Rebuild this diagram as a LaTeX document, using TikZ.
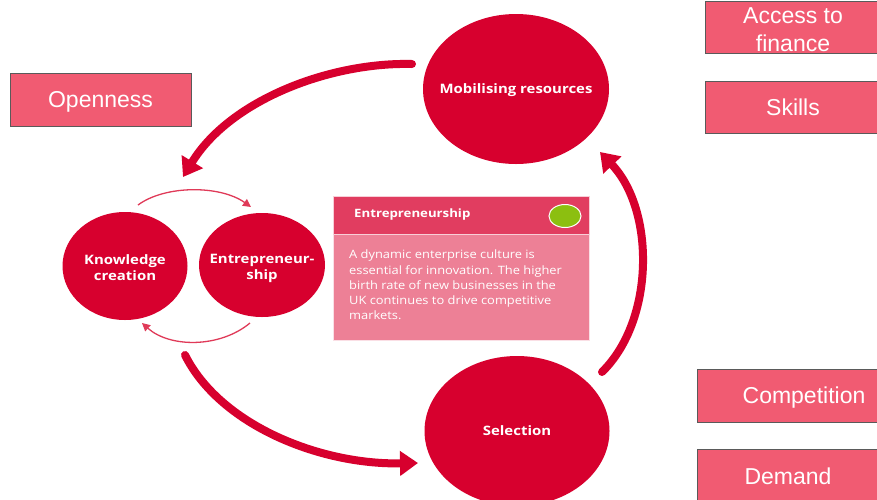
\documentclass[tikz,border=0pt]{standalone}
\usepackage{fontspec}
\setmainfont{Open Sans}
\newfontfamily\labfont{Liberation Sans}
\newfontfamily\widefont[FakeStretch=1.15]{Open Sans}
\newfontfamily\bodyfont[FakeStretch=1.12]{Open Sans}
\usetikzlibrary{arrows.meta,shapes.geometric}
\definecolor{crim}{HTML}{D7002E}
\definecolor{crimlight}{HTML}{E03A58}
\definecolor{labfill}{HTML}{F15B72}
\definecolor{labedge}{HTML}{5A5A5A}
\definecolor{hdrfill}{HTML}{E13D60}
\definecolor{bodyfill}{HTML}{ED8096}
\definecolor{greendot}{HTML}{8CBF10}
\tikzset{
  bigcirc/.style={ellipse, fill=crim, inner sep=0pt},
  circtext/.style={text=white, inner sep=0pt, align=center,
    font=\widefont\fontsize{13}{16}\selectfont\bfseries},
  labbox/.style={rectangle, fill=labfill, draw=labedge, line width=0.8pt, text=white,
    minimum height=53pt, inner sep=0pt, align=center,
    font=\labfont\fontsize{23}{28}\selectfont},
  labtext/.style={text=white, inner sep=0pt, align=center,
    font=\labfont\fontsize{23}{28}\selectfont},
  bigarrow/.style={draw=crim, line width=8pt, line cap=round,
    -{Triangle[length=18pt,width=24pt]}},
  smallarrow/.style={draw=crimlight, line width=1.3pt,
    -{Triangle[length=8pt,width=8pt]}},
}
\begin{document}
\begin{tikzpicture}[x=1pt,y=-1pt]
\useasboundingbox (0,0) rectangle (877,499);
\fill[white] (0,0) rectangle (877,499);

% circles
\node[bigcirc, minimum width=186pt, minimum height=150pt] (mob) at (516,89) {};
\node[circtext] (mobtxt) at ([yshift=-1pt]mob.center) {Mobilising resources};
\node[bigcirc, minimum width=185pt, minimum height=150pt] (sel) at (517,431) {};
\node[circtext] (seltxt) at (sel.center) {Selection};
\node[bigcirc, minimum width=125pt, minimum height=108pt] (know) at (125,266) {};
\node[circtext] (knowtxt) at ([yshift=-2pt]know.center) {Knowledge\\creation};
\node[bigcirc, minimum width=126pt, minimum height=104pt] (entr) at (262,265) {};
\node[circtext] (entrtxt) at ([yshift=-3pt]entr.center) {Entrepreneur-\\ship};

% panel
\node[rectangle, fill=bodyfill, draw=white!75!bodyfill, line width=0.8pt,
  minimum width=256pt, minimum height=106pt, inner sep=0pt] (body) at (461,287) {};
\node[rectangle, fill=hdrfill, draw=white!75!hdrfill, line width=0.8pt,
  minimum width=256pt, minimum height=38pt, inner sep=0pt] (hdr) at (461,215) {};
\node[anchor=west, text=white, font=\widefont\fontsize{11.5}{14}\selectfont\bfseries, inner sep=0pt]
  (hdrtxt) at (354,215) {Entrepreneurship};
\node[ellipse, fill=greendot, draw=white, line width=1pt, minimum width=32pt,
  minimum height=23pt, inner sep=0pt] (dot) at (565,216) {};
\node[anchor=north west, text=white, align=left, inner sep=0pt,
  font=\bodyfont\fontsize{11.5}{15.2}\selectfont] (bodytxt) at (349,250)
  {A dynamic enterprise culture is\\essential for innovation. The higher\\birth rate of new businesses in the\\UK continues to drive competitive\\markets.};

% label boxes
\node[labbox, minimum width=181pt] (open) at (100.5,99.5) {};
\node[labtext] (opentxt) at (100.5,101.5) {Openness};
\node[labbox, minimum width=176pt, minimum height=52pt] (fin) at (793,27) {};
\node[labtext] (fintxt) at (793,30) {Access to\\finance};
\node[labbox, minimum width=176pt, minimum height=52pt] (skills) at (793,107) {Skills};
\node[labbox, minimum width=214pt] (comp) at (804,395.5) {};
\node[labtext] (comptxt) at (804,397.5) {Competition};
\node[labbox, minimum width=182pt] (dem) at (788,475.5) {};
\node[labtext] (demtxt) at (788,476.5) {Demand};

% arrow end points
\coordinate (a1s) at (412,64);
\coordinate (a1e) at (183,177);
\coordinate (a2s) at (185,355);
\coordinate (a2e) at (418,463);
\coordinate (a3s) at (602,372);
\coordinate (a3e) at (600,152);
\coordinate (s1s) at (138,205);
\coordinate (s1e) at (251,207);
\coordinate (s2s) at (250,323);
\coordinate (s2e) at (142,323);

\draw[bigarrow] (a1s) .. controls (330,62) and (230,100) .. (a1e);
\draw[bigarrow] (a2s) .. controls (220,425) and (320,465) .. (a2e);
\draw[bigarrow] (a3s) .. controls (655,320) and (655,210) .. (a3e);
\draw[smallarrow] (s1s) .. controls (165,185) and (220,185) .. (s1e);
\draw[smallarrow] (s2s) .. controls (220,348) and (170,348) .. (s2e);
\end{tikzpicture}
\end{document}
